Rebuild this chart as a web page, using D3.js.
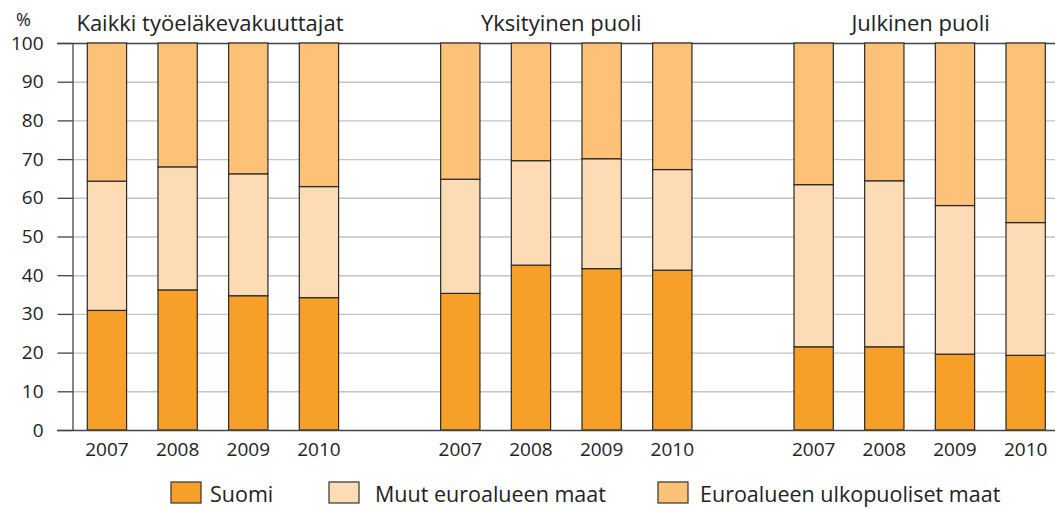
<!DOCTYPE html>
<html>
<head>
  <meta charset="UTF-8" />
  <title>Sijoitukset alueittain</title>
  <style>
    body { margin: 0; background: #fff; }
    svg text { font-family: "Open Sans", sans-serif; fill: #222; }
  </style>
  <script src="https://d3js.org/d3.v7.min.js"></script>
</head>
<body>
  <script>
    /* data (% shares) */
    let groups = ["Kaikki työeläkevakuuttajat", "Yksityinen puoli", "Julkinen puoli"];
    let years = ["2007", "2008", "2009", "2010"];
    let seriesNames = ["Suomi", "Muut euroalueen maat", "Euroalueen ulkopuoliset maat"];
    let suomi = [[30.9, 36.2, 34.7, 34.2], [35.3, 42.6, 41.7, 41.3], [21.5, 21.5, 19.6, 19.3]];
    let muut = [[33.4, 31.8, 31.5, 28.7], [29.5, 27.0, 28.4, 26.0], [41.9, 42.9, 38.4, 34.3]];
    let ulko = [[35.7, 32.0, 33.8, 37.1], [35.2, 30.4, 29.9, 32.7], [36.6, 35.6, 42.0, 46.4]];
    let yTicks = [0, 10, 20, 30, 40, 50, 60, 70, 80, 90, 100];
    let colors = ["#f6a029", "#fddcb5", "#fdc277"];

    let width = 1055, height = 509;
    let margin = { top: 43, left: 72, bottom: 79 };
    let plotBottom = height - margin.bottom;

    let svg = d3.select("body").append("svg")
      .attr("width", width)
      .attr("height", height);

    /* build rows: one per bar, plus empty slots between groups */
    let rows = [];
    let slots = [];
    groups.forEach((g, gi) => {
      years.forEach((y, yi) => {
        let key = gi + "-" + y;
        slots.push(key);
        rows.push({ key: key, group: gi, year: y, s0: suomi[gi][yi], s1: muut[gi][yi], s2: ulko[gi][yi] });
      });
      if (gi < groups.length - 1) slots.push("gap" + gi);
    });

    let x = d3.scaleBand()
      .domain(slots)
      .range([margin.left, 1060.6])
      .paddingInner(0.444)
      .paddingOuter(0.2165);

    let y = d3.scaleLinear()
      .domain([0, 100])
      .range([plotBottom, margin.top]);

    /* gridlines */
    svg.append("g")
      .selectAll("line")
      .data(yTicks.filter(t => t > 0 && t < 100))
      .enter()
      .append("line")
      .attr("x1", margin.left)
      .attr("x2", width)
      .attr("y1", d => y(d) + 0.5)
      .attr("y2", d => y(d) + 0.5)
      .attr("stroke", "#c4c4c4")
      .attr("stroke-width", 1.4);

    /* top frame line */
    svg.append("line")
      .attr("x1", 57).attr("x2", width)
      .attr("y1", y(100) + 0.5).attr("y2", y(100) + 0.5)
      .attr("stroke", "#444").attr("stroke-width", 1.3);

    /* y axis */
    let yAxis = svg.append("g")
      .attr("transform", `translate(${margin.left + 0.5},0)`)
      .call(d3.axisLeft(y).tickValues(yTicks).tickSize(15).tickPadding(14).tickSizeOuter(0));
    yAxis.select(".domain").attr("stroke", "#444").attr("stroke-width", 1.3);
    yAxis.selectAll(".tick line").attr("stroke", "#444").attr("stroke-width", 1.3);
    yAxis.selectAll(".tick text")
      .style("font-family", "'Open Sans', sans-serif")
      .style("font-size", "19px")
      .attr("fill", "#222");

    /* stacked bars */
    let stack = d3.stack().keys(["s0", "s1", "s2"]);
    let layers = stack(rows);

    svg.append("g")
      .selectAll("g")
      .data(layers)
      .enter()
      .append("g")
      .attr("fill", (d, i) => colors[i])
      .selectAll("rect")
      .data(d => d)
      .enter()
      .append("rect")
      .attr("x", d => x(d.data.key))
      .attr("y", d => y(d[1]))
      .attr("width", x.bandwidth())
      .attr("height", d => y(d[0]) - y(d[1]))
      .attr("stroke", "#2a2a2a")
      .attr("stroke-width", 1.2);

    /* x axis baseline */
    svg.append("line")
      .attr("x1", 57).attr("x2", width)
      .attr("y1", plotBottom + 0.5).attr("y2", plotBottom + 0.5)
      .attr("stroke", "#444").attr("stroke-width", 1.6);

    /* year labels */
    svg.append("g")
      .selectAll("text")
      .data(rows)
      .enter()
      .append("text")
      .attr("x", d => x(d.key) + x.bandwidth() / 2)
      .attr("y", 456)
      .attr("text-anchor", "middle")
      .style("font-size", "19px")
      .text(d => d.year);

    /* group titles */
    let titleShift = [-3, -5, 1];
    svg.append("g")
      .selectAll("text")
      .data(groups)
      .enter()
      .append("text")
      .attr("x", (d, i) => {
        let first = x(i + "-" + years[0]);
        let last = x(i + "-" + years[years.length - 1]) + x.bandwidth();
        return (first + last) / 2 + titleShift[i];
      })
      .attr("y", 31)
      .attr("text-anchor", "middle")
      .style("font-size", "22px")
      .text(d => d);

    /* unit label */
    svg.append("text")
      .attr("x", 16)
      .attr("y", 26)
      .style("font-size", "18px")
      .text("%");

    /* legend */
    let legendX = [171, 329, 658];
    let textX = [39, 46, 42];
    let legend = svg.append("g")
      .selectAll("g")
      .data(seriesNames)
      .enter()
      .append("g")
      .attr("transform", (d, i) => `translate(${legendX[i]}, 482)`);
    legend.append("rect")
      .attr("width", 30)
      .attr("height", 21)
      .attr("fill", (d, i) => colors[i])
      .attr("stroke", "#333")
      .attr("stroke-width", 1.2);
    legend.append("text")
      .attr("x", (d, i) => textX[i])
      .attr("y", 20)
      .style("font-size", "21.5px")
      .text(d => d);
  </script>
</body>
</html>
